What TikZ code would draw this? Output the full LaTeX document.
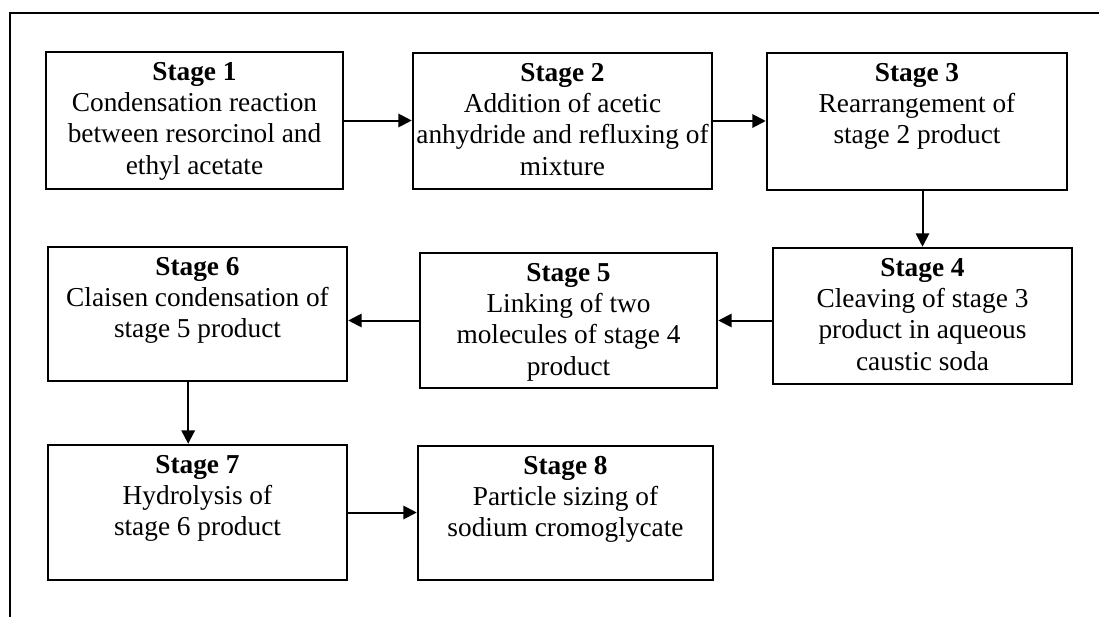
\documentclass[tikz,border=0pt]{standalone}
\usepackage{fontspec}
\setmainfont{Liberation Serif}
\usetikzlibrary{arrows.meta}

% box: name, centre x, centre y, width, height, text lines
\newcommand\stagenode[6]{%
  \node[stagebox, minimum width=#4*0.75pt, minimum height=#5*0.75pt] (#1) at (#2,#3) {};
  \node[stagetext] (#1t) at ([yshift=-22pt]#1.north)
    {\parbox[t]{\dimexpr 0.75pt*#4-2pt\relax}{\centering #6}};
}

\begin{document}
\begin{tikzpicture}[x=0.75pt,y=-0.75pt,
  stagebox/.style={draw, line width=1.9pt, inner sep=0pt},
  stagetext/.style={anchor=base, inner sep=0pt, font=\fontsize{20.5}{23.5}\selectfont},
  flow/.style={line width=1.5pt, -{Triangle[length=10pt,width=10pt]}}]

\useasboundingbox (0,0) rectangle (1099,617);

% open frame round the flow chart
\draw[line width=1.9pt] (10,617) -- (10,13) -- (1099,13);

\stagenode{s1}{194.5}{120.5}{297}{137}{\textbf{Stage 1}\\Condensation reaction\\between resorcinol and\\ethyl acetate}
\stagenode{s2}{562.5}{121}{299}{136}{\textbf{Stage 2}\\Addition of acetic\\anhydride and refluxing of\\mixture}
\stagenode{s3}{917}{121.5}{300}{137}{\textbf{Stage 3}\\Rearrangement of\\stage 2 product}
\stagenode{s4}{922.5}{316}{299}{136}{\textbf{Stage 4}\\Cleaving of stage 3\\product in aqueous\\caustic soda}
\stagenode{s5}{568.5}{320.5}{297}{135}{\textbf{Stage 5}\\Linking of two\\molecules of stage 4\\product}
\stagenode{s6}{197.5}{314}{299}{134}{\textbf{Stage 6}\\Claisen condensation of\\stage 5 product}
\stagenode{s7}{197.5}{512.5}{299}{135}{\textbf{Stage 7}\\Hydrolysis of\\stage 6 product}
\stagenode{s8}{565.5}{513}{295}{134}{\textbf{Stage 8}\\Particle sizing of\\sodium cromoglycate}

% connectors
\draw[flow] (s1.east) -- (s1.east -| s2.west);
\draw[flow] (s2.east) -- (s2.east -| s3.west);
\draw[flow] (s4.north |- s3.south) -- (s4.north);
\draw[flow] (s4.west |- s5.east) -- (s5.east);
\draw[flow] (s5.west) -- (s5.west -| s6.east);
\draw[flow] ([xshift=-7pt]s6.south) -- ([xshift=-7pt]s6.south |- s7.north);
\draw[flow] (s7.east) -- (s7.east -| s8.west);

\end{tikzpicture}
\end{document}
